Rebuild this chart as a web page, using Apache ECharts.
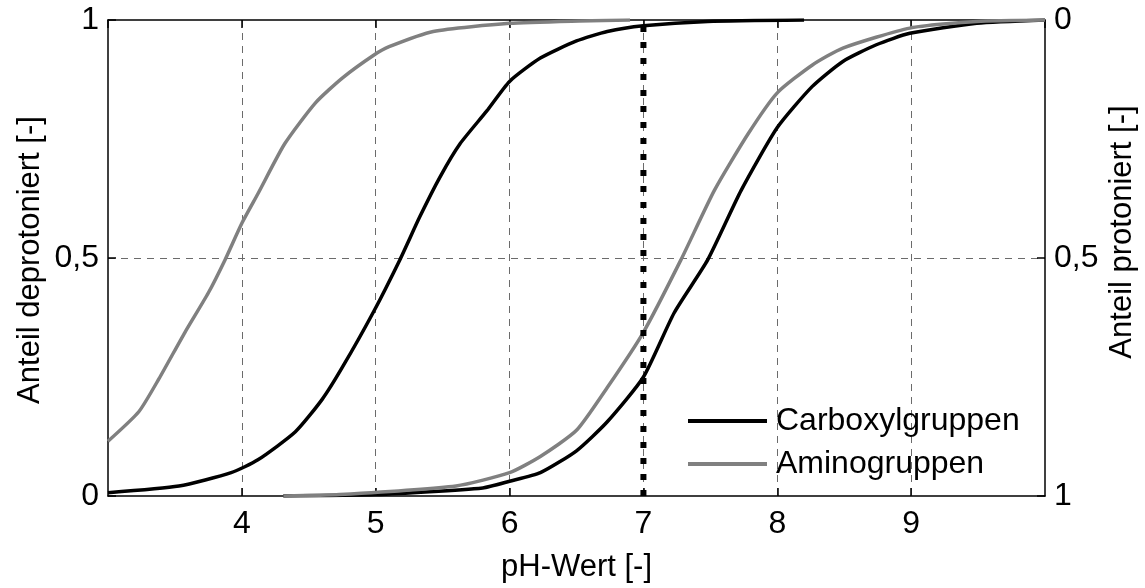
<!DOCTYPE html>
<html>
<head>
<meta charset="utf-8">
<script src="https://cdn.jsdelivr.net/npm/echarts@6/dist/echarts.min.js"></script>
<style>
html,body{margin:0;padding:0;background:#fff;}
#chart{width:1145px;height:588px;}
</style>
</head>
<body>
<div id="chart"></div>
<script>
// ---- Data ----
// Carboxylgruppen, first curve (fraction deprotonated)
const carb1X = [3.0, 3.53, 3.92, 4.12, 4.40, 4.60, 4.75, 4.98, 5.18, 5.33, 5.48, 5.63, 5.83, 6.0, 6.23, 6.50, 6.73, 7.0, 7.48, 8.2];
const carb1Y = [0.007, 0.021, 0.049, 0.076, 0.135, 0.203, 0.27, 0.385, 0.496, 0.587, 0.670, 0.740, 0.809, 0.871, 0.920, 0.956, 0.976, 0.988, 0.997, 1.0];
// Aminogruppen, first curve
const amino1X = [3.0, 3.23, 3.38, 3.575, 3.75, 3.874, 4.0, 4.12, 4.32, 4.55, 4.75, 4.99, 5.1, 5.43, 6.0, 6.52, 6.9];
const amino1Y = [0.115, 0.177, 0.246, 0.344, 0.427, 0.496, 0.573, 0.635, 0.74, 0.826, 0.878, 0.927, 0.944, 0.976, 0.993, 0.998, 1.0];
// Aminogruppen, second curve
const amino2X = [4.31, 4.73, 5.6, 6.0, 6.23, 6.5, 6.73, 7.0, 7.28, 7.53, 7.78, 8.0, 8.26, 8.49, 8.99, 9.49, 10.0];
const amino2Y = [0.0, 0.003, 0.021, 0.049, 0.083, 0.138, 0.228, 0.344, 0.496, 0.642, 0.76, 0.847, 0.905, 0.941, 0.983, 0.997, 1.0];
// Carboxylgruppen, second curve
const carb2X = [4.31, 5.0, 5.8, 6.0, 6.23, 6.5, 6.73, 7.0, 7.23, 7.48, 7.73, 8.0, 8.26, 8.49, 8.74, 8.99, 9.49, 10.0];
const carb2Y = [0.0, 0.003, 0.017, 0.031, 0.049, 0.095, 0.156, 0.25, 0.385, 0.496, 0.642, 0.774, 0.86, 0.913, 0.948, 0.972, 0.993, 1.0];
// Reference pH (dotted vertical line)
const refPH = 7;
const refRange = [0, 1];
// Axis ticks
const xMin = 3, xMax = 10, xStep = 1;
const yMin = 0, yMax = 1, yStep = 0.5;
const seriesNames = ['Carboxylgruppen', 'Aminogruppen'];
const axisTitles = { x: 'pH-Wert [-]', yLeft: 'Anteil deprotoniert [-]', yRight: 'Anteil protoniert [-]' };

const pairs = (xs, ys) => xs.map((x, i) => [x, ys[i]]);
const FONT = "'Liberation Sans', Arial, Helvetica, sans-serif";
const FS = 32;   // tick labels and legend
const TFS = 31;  // axis titles
const BLACK = '#000000', GRAY = '#808080';
const fmt = v => String(v).replace('.', ',');

const chart = echarts.init(document.getElementById('chart'), null, { renderer: 'canvas' });

const lineSeries = (name, data, color) => ({
  name, type: 'line', data, symbol: 'none', xAxisIndex: 0, yAxisIndex: 0,
  smooth: 0.2,
  lineStyle: { color, width: 3.5, join: 'round' }, itemStyle: { color }, z: 3
});

chart.setOption({
  animation: false,
  backgroundColor: '#fff',
  textStyle: { fontFamily: FONT, color: BLACK },
  grid: { left: 108, right: 100, top: 20, bottom: 88, containLabel: false },
  legend: {
    data: seriesNames,
    orient: 'vertical',
    left: 683, top: 400,
    icon: 'rect',
    itemWidth: 79, itemHeight: 4,
    itemGap: 11,
    textStyle: { fontFamily: FONT, fontSize: FS, color: BLACK, lineHeight: 32, padding: [0, 0, 0, 4] },
    selectedMode: false
  },
  xAxis: [{
    type: 'value', min: xMin, max: xMax, interval: xStep, position: 'bottom',
    name: axisTitles.x, nameLocation: 'middle', nameGap: 56,
    nameTextStyle: { fontFamily: FONT, fontSize: TFS, color: BLACK },
    axisLine: { show: true, lineStyle: { color: BLACK, width: 1.5 } },
    axisTick: { show: true, inside: true, length: 8, lineStyle: { color: BLACK, width: 1.5 } },
    axisLabel: { margin: 12, fontFamily: FONT, fontSize: FS, color: BLACK, showMinLabel: false, showMaxLabel: false },
    splitLine: { show: true, showMinLine: false, showMaxLine: false, lineStyle: { color: '#6b6b6b', width: 1, type: [7, 6] } }
  }, {
    type: 'value', min: xMin, max: xMax, interval: xStep, position: 'top',
    axisLine: { show: true, lineStyle: { color: BLACK, width: 1.5 } },
    axisTick: { show: true, inside: true, length: 8, lineStyle: { color: BLACK, width: 1.5 } },
    axisLabel: { show: false }, splitLine: { show: false }
  }],
  yAxis: [{
    type: 'value', min: yMin, max: yMax, interval: yStep, position: 'left',
    axisLine: { show: true, lineStyle: { color: BLACK, width: 1.5 } },
    axisTick: { show: true, inside: true, length: 8, lineStyle: { color: BLACK, width: 1.5 } },
    axisLabel: { margin: 9, fontFamily: FONT, fontSize: FS, color: BLACK, formatter: fmt },
    splitLine: { show: true, showMinLine: false, showMaxLine: false, lineStyle: { color: '#6b6b6b', width: 1, type: [7, 6] } }
  }, {
    type: 'value', min: yMin, max: yMax, interval: yStep, position: 'right', inverse: true,
    axisLine: { show: true, lineStyle: { color: BLACK, width: 1.5 } },
    axisTick: { show: true, inside: true, length: 8, lineStyle: { color: BLACK, width: 1.5 } },
    axisLabel: { margin: 9, fontFamily: FONT, fontSize: FS, color: BLACK, formatter: fmt },
    splitLine: { show: false }
  }],
  graphic: [{
    type: 'text', x: 30, y: 260, rotation: Math.PI / 2,
    style: { text: axisTitles.yLeft, font: TFS + 'px ' + FONT, fill: BLACK, align: 'center', verticalAlign: 'middle' }
  }, {
    type: 'text', x: 1122, y: 232, rotation: Math.PI / 2,
    style: { text: axisTitles.yRight, font: TFS + 'px ' + FONT, fill: BLACK, align: 'center', verticalAlign: 'middle' }
  }],
  series: [
    lineSeries(seriesNames[0], pairs(carb1X, carb1Y), BLACK),
    lineSeries(seriesNames[1], pairs(amino1X, amino1Y), GRAY),
    lineSeries(seriesNames[0], pairs(carb2X, carb2Y), BLACK),
    lineSeries(seriesNames[1], pairs(amino2X, amino2Y), GRAY),
    {
      name: 'pH 7', type: 'line', symbol: 'none', xAxisIndex: 0, yAxisIndex: 0,
      data: refRange.map(v => [refPH, v]),
      lineStyle: { color: BLACK, width: 6, type: [6, 10], cap: 'butt' }, z: 5
    }
  ]
});
</script>
</body>
</html>
